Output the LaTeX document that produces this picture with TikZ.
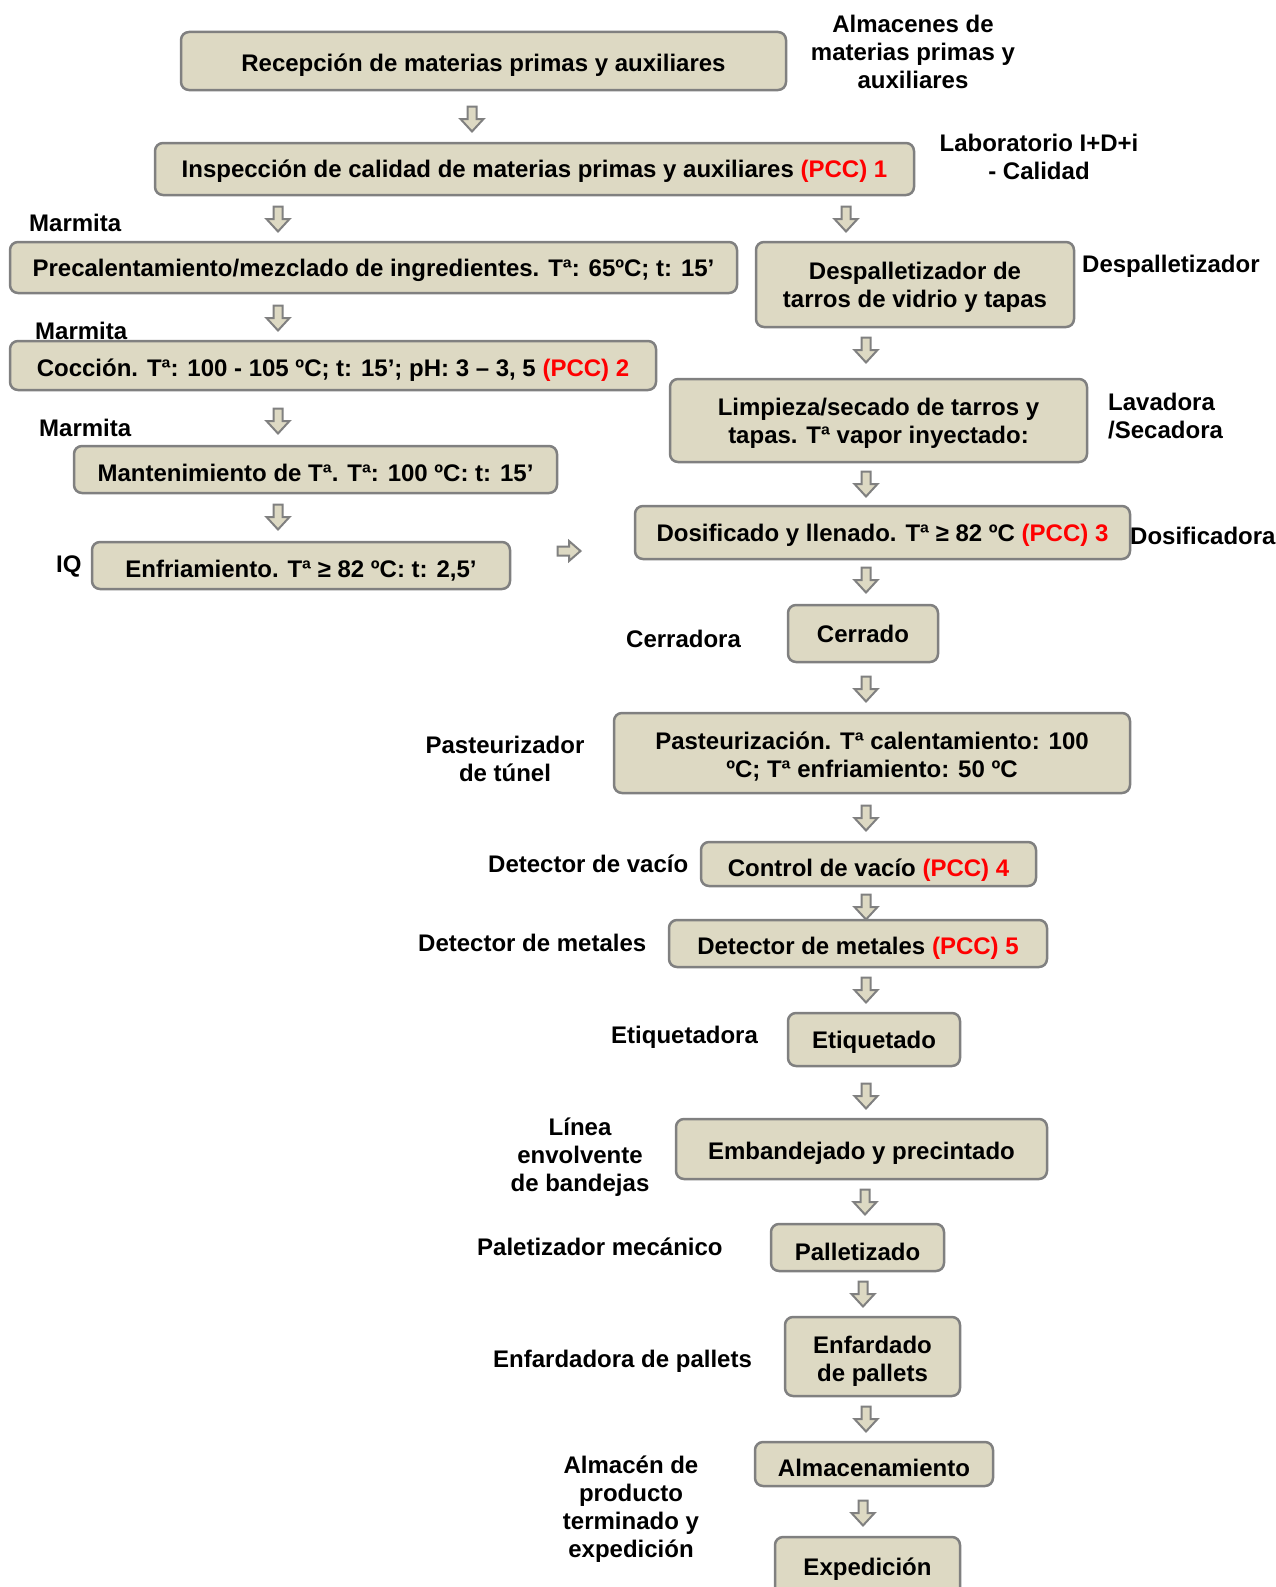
\documentclass[tikz,border=0pt]{standalone}
\usepackage{fontspec}
\setmainfont{Liberation Sans}

\definecolor{beige}{RGB}{221,217,195}
\definecolor{borde}{RGB}{128,128,128}
\newcommand{\pcc}[1]{\textcolor{red}{(PCC) #1}}

\begin{document}
\begin{tikzpicture}[x=1pt, y=-1pt,
        every node/.style={font=\fontsize{24}{28}\selectfont\bfseries, align=center, inner sep=1pt},
        paso/.style={draw=borde, fill=beige, line width=2.5pt, rounded corners=8pt, text depth=0pt},
        bajo/.style={text height=#1},
        equipo/.style={anchor=west},
        flecha/.pic={\draw[draw=borde, fill=beige, line width=2pt]
            (-4.5,-12.5) -- (4.5,-12.5) -- (4.5,0) -- (11.5,0) -- (0,12.5) -- (-11.5,0) -- (-4.5,0) -- cycle;},
        flechader/.pic={\draw[draw=borde, fill=beige, line width=2pt]
            (-11.5,-4.5) -- (0,-4.5) -- (0,-10) -- (11.5,0) -- (0,10) -- (0,4.5) -- (-11.5,4.5) -- cycle;}
    ]
        \clip (0,0) rectangle (1276,1587);

        % Pasos del proceso
        \node[paso, bajo=21pt, minimum width=605pt, minimum height=58pt] (rec) at (483.5,61) {Recepción de materias primas y auxiliares};
        \node[paso, minimum width=759pt, minimum height=52pt] (insp) at (534.5,169) {Inspección de calidad de materias primas y auxiliares \pcc{1}};
        \node[paso, minimum width=727pt, minimum height=51pt] (prec) at (373.5,267.5) {Precalentamiento/mezclado de ingredientes. Tª: 65ºC; t: 15’};
        \node[paso, minimum width=318pt, minimum height=85pt] (desp) at (915,284.5) {Despalletizador de\\tarros de vidrio y tapas};
        \node[paso, bajo=21.5pt, minimum width=646pt, minimum height=49pt] (cocc) at (333,365.5) {Cocción. Tª: 100 - 105 ºC; t: 15’; pH: 3 – 3, 5 \pcc{2}};
        \node[paso, minimum width=417pt, minimum height=83pt] (limp) at (878.5,420.5) {Limpieza/secado de tarros y\\tapas. Tª vapor inyectado:};
        \node[paso, bajo=23.5pt, minimum width=483pt, minimum height=47pt] (mant) at (315.5,469.5) {Mantenimiento de Tª. Tª: 100 ºC: t: 15’};
        \node[paso, minimum width=495pt, minimum height=53pt] (dosi) at (882.5,532.5) {Dosificado y llenado. Tª ≥ 82 ºC \pcc{3}};
        \node[paso, bajo=24pt, minimum width=418pt, minimum height=47pt] (enfr) at (301,565.5) {Enfriamiento. Tª ≥ 82 ºC: t: 2,5’};
        \node[paso, minimum width=150pt, minimum height=57pt] (cerr) at (863,633.5) {Cerrado};
        \node[paso, bajo=48pt, minimum width=516pt, minimum height=80pt] (past) at (872,753) {Pasteurización. Tª calentamiento: 100\\ºC; Tª enfriamiento: 50 ºC};
        \node[paso, bajo=24pt, minimum width=335pt, minimum height=44pt] (ctrl) at (868.5,864) {Control de vacío \pcc{4}};
        \node[paso, bajo=21pt, minimum width=378pt, minimum height=47pt] (detm) at (858,943.5) {Detector de metales \pcc{5}};
        \node[paso, minimum width=172pt, minimum height=53pt] (etiq) at (874,1039.5) {Etiquetado};
        \node[paso, bajo=21pt, minimum width=371pt, minimum height=60pt] (emba) at (861.5,1149) {Embandejado y precintado};
        \node[paso, bajo=26pt, minimum width=173pt, minimum height=47pt] (pall) at (857.5,1247.5) {Palletizado};
        \node[paso, bajo=49pt, minimum width=175pt, minimum height=79pt] (enfa) at (872.5,1356.5) {Enfardado\\de pallets};
        \node[paso, bajo=24pt, minimum width=238pt, minimum height=44pt] (alma) at (874,1464) {Almacenamiento};
        \node[paso, minimum width=185pt, minimum height=60pt] (expe) at (867.5,1567) {Expedición};

        % Equipos
        \node (eqrec) at (913,52) {Almacenes de\\materias primas y\\auxiliares};
        \node (eqinsp) at (1039,156.5) {Laboratorio I+D+i\\- Calidad};
        \node[equipo] (eqprec) at (28,223) {Marmita};
        \node[equipo] (eqdesp) at (1081,266) {Despalletizador};
        \node[equipo] (eqcocc) at (34,331) {Marmita};
        \node[equipo, align=left] (eqlimp) at (1107,416.5) {Lavadora\\/Secadora};
        \node[equipo] (eqmant) at (38,428) {Marmita};
        \node[equipo] (eqenfr) at (55,566) {IQ};
        \node[equipo] (eqdosi) at (1129,536) {Dosificadora};
        \node[equipo] (eqcerr) at (625,638.5) {Cerradora};
        \node (eqpast) at (505,759) {Pasteurizador\\de túnel};
        \node[equipo] (eqctrl) at (487,864) {Detector de vacío};
        \node[equipo] (eqdetm) at (417,943) {Detector de metales};
        \node[equipo] (eqetiq) at (610,1037) {Etiquetadora};
        \node (eqemba) at (580,1157) {Línea\\envolvente\\de bandejas};
        \node[equipo] (eqpall) at (476,1247) {Paletizador mecánico};
        \node[equipo] (eqenfa) at (492,1361) {Enfardadora de pallets};
        \node (eqalma) at (631,1509) {Almacén de\\producto\\terminado y\\expedición};

        % Flechas
        \foreach \px/\py in {472/119, 278/219, 846/219, 278/318, 866/350, 278/421,
                866/484, 278/517, 866/580, 866/689, 866/818, 866/907, 866/990,
                866/1096, 865/1202, 863/1294, 866/1419, 863/1513}
            \pic at (\px,\py) {flecha};
        \pic at (569,551) {flechader};
    \end{tikzpicture}
\end{document}
